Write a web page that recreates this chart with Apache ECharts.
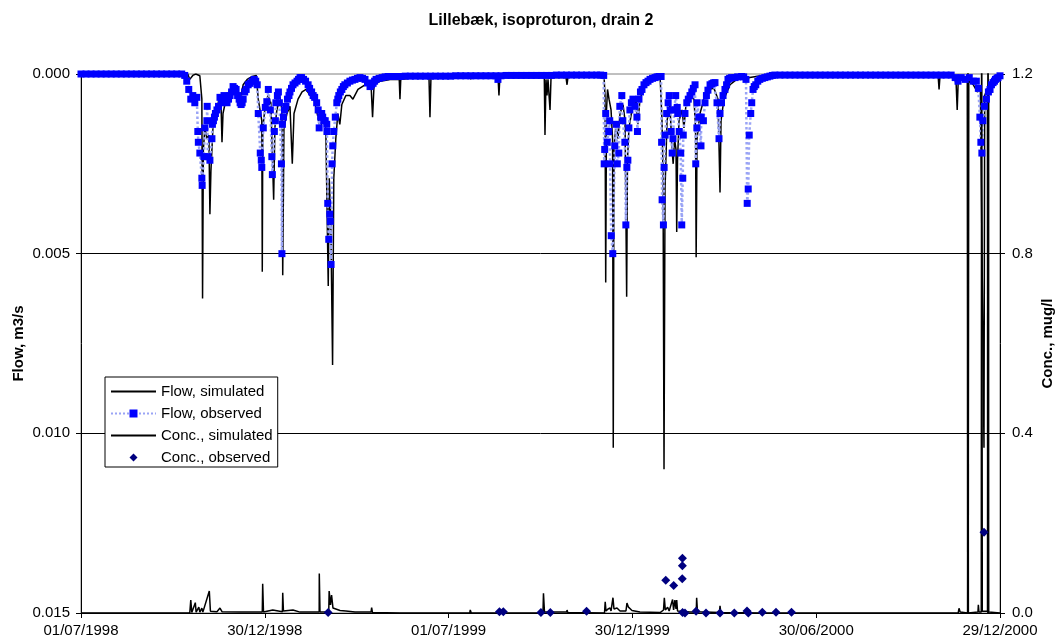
<!DOCTYPE html>
<html>
<head>
<meta charset="utf-8">
<script src="https://cdn.jsdelivr.net/npm/echarts@6/dist/echarts.min.js"></script>
<style>
  html, body { margin: 0; padding: 0; background: #fff; }
  #chart { width: 1055px; height: 644px; }
</style>
</head>
<body>
<div id="chart"></div>
<script>
// Time is counted in days since 1 July 1998.
const START_UTC = Date.UTC(1998, 6, 1);
const DAY_MS = 86400000;
const xTickStep = 182.5;
const xMax = 912.5;

const flowTicks = [0, 0.005, 0.010, 0.015];
const concTicks = [0, 0.4, 0.8, 1.2];

const seriesNames = ['Flow, simulated', 'Flow, observed', 'Conc., simulated', 'Conc., observed'];

// [day, flow m3/s] simulated drain flow
const flowSim = [
  [0,0],[106,0],[108,0.00015],[111,0.00004],[114,0],[118,0.00005],[120,0.0007],[120.7,0.00625],[121.5,0.0021],[123,0.0015],[125,0.0018],[127,0.0017],[128,0.0039],[129,0.0027],[131,0.0015],[134,0.0011],[137,0.0007],[139,0.0008],[140,0.0019],[141,0.0011],[144,0.0007],[147,0.0005],[150,0.00043],[154,0.0005],[158,0.0007],[161,0.0003],[165,0.00015],[170,0.00007],[174,0.00004],
  [176,0.0007],[179.5,0.0013],[180,0.0055],[180.5,0.0015],[182.5,0.001],[185.5,0.0006],[188.5,0.0008],[191.3,0.0035],[192.5,0.0015],[194.5,0.001],[197.5,0.00065],[199.5,0.001],[200.3,0.0056],[201.5,0.0015],[204.5,0.0011],[207.5,0.0009],[209.8,0.0025],[211.5,0.0011],[215.5,0.0007],[219.5,0.0005],[223.5,0.00043],[227.5,0.0006],[231.5,0.0007],[234.5,0.0011],[237.5,0.0015],[240.5,0.0012],[243,0.0014],
  [245.5,0.0059],[246.5,0.0029],[248,0.004],[249.8,0.0081],[251,0.0029],[253,0.0018],[255,0.0011],[257,0.0014],[259,0.00085],[263,0.0006],[267,0.0006],[270,0.0007],[275,0.00043],[282,0.0003],[288,0.0003],[289.5,0.0012],[291,0.0003],[297,0.0002],[307,0.00015],[316,0.00015],[316.7,0.0007],[317.5,0.00015],[331.5,0.0001],[345.5,0.00007],[346.5,0.0012],[347.5,0.00007],[366,0.00004],[386,0.00004],[387,0.00015],[388,0.00004],[414,0.00004],[415,0.0006],[416,0.00004],[446,0.00002],[460,0.00004],[460.7,0.0017],[461.7,0.00015],[462.7,0.0006],[463.7,0.00015],[465.7,0.001],[466.7,0.0001],[481.6,0.0001],[482.6,0.0003],[483.6,0.00007],[515,0.00004],
  [519.3,0.00004],[520.3,0.0006],[521,0.0058],[521.8,0.001],[522.8,0.00043],[524.3,0.0007],[526.3,0.001],[527.8,0.0018],[528.5,0.0104],[529.2,0.0021],[531.2,0.0014],[533.2,0.0018],[535.2,0.0011],[538.2,0.00085],[540.2,0.0013],[541.8,0.0062],[542.6,0.0024],[544.1,0.0015],[547.1,0.001],[551,0.0007],[553,0.0014],[555,0.0007],[560,0.0003],[567,0.0001],[575,0.00007],
  [576.9,0.0013],[577.9,0.0027],[578.9,0.011],[579.9,0.0032],[581.9,0.0013],[584.8,0.00085],[586.8,0.0021],[588,0.0025],[589.3,0.0018],[590.8,0.0021],[591.5,0.0044],[592.3,0.0024],[593.8,0.0013],[596.8,0.001],[598.7,0.0015],[600.7,0.00085],[604.7,0.00065],[608.7,0.0007],[610.2,0.0015],[610.8,0.0051],[611.7,0.0018],[614.6,0.0011],[618.6,0.0007],[622.6,0.00043],[628.5,0.0004],[632.5,0.0007],[634.5,0.0033],[635.5,0.0013],[638.4,0.0007],[644.4,0.0003],[652.4,0.00012],[658.3,0.00015],[664,0.0001],[675,0.00005],[700,0.00002],
  [851,0.00002],[852,0.00043],[853,0.00002],[867,0.00005],[869,0.0003],[870,0.001],[871,0.0002],[875,0.0001],[880,0.0002],[880.7,0.02],[881.5,0.0002],[886,0.0003],[890,0.0005],[893,0.0004],[896.6,0.0104],[897.3,0.0006],[900,0.0004],[900.6,0.02],[901.3,0.0003],[905,0.0002],[912.5,0.0001]
];

// [day, flow m3/s] measured drain flow
const flowObs = [
  [0,0],[5,0],[10,0],[15,0],[20,0],[25,0],[30,0],[35,0],[40,0],[45,0],[50,0],[55,0],[60,0],[65,0],[70,0],[75,0],[80,0],[85,0],[90,0],[95,0],[100,0],
  [103,0.00004],[105,0.0002],[107,0.00043],[109,0.0007],[111,0.0006],[113,0.0008],[115,0.00065],[116,0.0016],[116.5,0.0019],[118,0.0022],[120,0.0029],[120.3,0.0031],[122,0.0023],[123,0.0015],[125,0.0013],[125.3,0.0009],[126,0.0023],[128,0.0024],[130,0.0018],[130.5,0.0014],
  [131.5,0.0013],[132.5,0.0012],[133.5,0.0011],[135,0.001],[136.5,0.0009],[138,0.00065],[139.5,0.0008],[141,0.0007],[142,0.0006],[143.5,0.0007],[145,0.0008],[146.5,0.0007],[148,0.0006],[149.5,0.0005],[151,0.00035],[152.5,0.0004],[154,0.00043],[155.5,0.0006],[157,0.0007],[158,0.0008],[159,0.00085],[160,0.0008],[161,0.0007],[162.5,0.0005],[164,0.00043],[166,0.0003],[168,0.00026],[170,0.0002],[172,0.00015],[173.5,0.0002],[175,0.0003],
  [176,0.0011],[178,0.0022],[179,0.0024],[179.5,0.0026],[181,0.0015],[183,0.00093],[184.5,0.00077],[186,0.00043],[188,0.001],[189.5,0.0023],[190,0.0028],[192,0.0016],[193,0.0013],[193.5,0.0008],[195,0.0006],[196,0.0005],[197,0.0008],[199,0.0025],[199.5,0.005],[200,0.0014],
  [201,0.0012],[202,0.001],[203.5,0.0009],[205,0.0007],[206.5,0.0006],[207.5,0.0005],[209,0.0004],[210.5,0.0003],[212.5,0.00025],[214.5,0.0002],[216,0.00015],[217.5,0.0001],[219,0.0001],[221,0.00015],[223,0.0002],[225.5,0.0003],[227,0.0004],[229,0.0005],[230.5,0.0006],[232,0.00065],[234,0.0008],[235.5,0.001],[236.5,0.0015],[238,0.0012],[239,0.0011],[240,0.0012],[241,0.0013],[242.5,0.0013],[244,0.0014],[244.2,0.0016],
  [245,0.0036],[246,0.0046],[247,0.0039],[247.5,0.0041],[248.3,0.0053],[249.3,0.0025],[250,0.002],[251,0.0016],[252.5,0.0012],[254,0.0008],[255,0.0007],[256,0.0006],[257.5,0.0005],[259,0.00043],[260.5,0.00035],[262,0.0003],[264.5,0.00025],[267,0.0002],[269.5,0.00017],[272,0.00015],[274.5,0.00012],[277,0.0001],[279.5,0.00012],[282,0.00015],[284.5,0.00025],[287,0.00035],[288.5,0.0003],[290,0.00026],[291.5,0.0002],[293,0.00015],[296,0.00012],[299,0.0001],[302,0.00008],[305,0.00007],[308,0.00007],[311,0.00007],[314,0.00007],[317,0.00007],
  [322,0.00006],[327,0.00006],[332,0.00006],[337,0.00006],[342,0.00006],[347,0.00006],[352,0.00006],[357,0.00006],[362,0.00006],[367,0.00006],[372,0.00005],[377,0.00005],[382,0.00005],[387,0.00005],[392,0.00005],[397,0.00005],[402,0.00005],[407,0.00005],[412,0.00005],[414,0.00015],[417,0.00005],
  [422,0.00004],[427,0.00004],[432,0.00004],[437,0.00004],[442,0.00004],[447,0.00004],[452,0.00004],[457,0.00004],[462,0.00004],[467,0.00004],[472,0.00003],[477,0.00003],[482,0.00003],[487,0.00003],[492,0.00003],[497,0.00003],[502,0.00003],[507,0.00003],[512,0.00003],[516,0.00003],
  [519,0.00004],[519.5,0.0025],[520,0.0021],[521,0.0011],[522.5,0.0019],[524,0.0016],[525,0.0013],[525.3,0.0025],[526.5,0.0045],[528,0.005],[530,0.002],[531.5,0.0014],[532.5,0.0025],[534,0.0022],[535,0.0009],[537,0.0006],[538,0.0013],[540,0.0019],[541,0.0042],[542,0.0026],[543,0.0024],[544,0.0015],[545,0.001],[546.5,0.0008],[548,0.0007],[550,0.0009],[552,0.0012],[552.5,0.0016],[554,0.0007],[555.5,0.0005],[557,0.00043],[559,0.0003],[561,0.00024],[563,0.0002],[565,0.00015],[567.5,0.00012],[570,0.0001],[572,0.00008],[574,0.00007],[576,0.00007],
  [576.5,0.0019],[577,0.0035],[578.3,0.0042],[579,0.0026],[580,0.0017],[581.5,0.0011],[583,0.0008],[584,0.0006],[585,0.001],[586,0.0016],[587,0.0022],[587.8,0.0018],[589,0.001],[590.5,0.0006],[592,0.00093],[592.5,0.0011],[594,0.0016],[595.5,0.0022],[596.5,0.0042],[597.5,0.0029],[598,0.0017],[599.7,0.0011],[601.5,0.0008],[603,0.0007],[604.7,0.0006],[606.5,0.0005],[608,0.0004],[609.7,0.0003],[610.4,0.0025],[611.5,0.0015],[611.8,0.0008],[613.5,0.0012],[615.6,0.002],[615.8,0.0012],[618,0.0013],[619.6,0.0008],[621,0.0006],[622.5,0.00045],[624.6,0.0003],[626.5,0.00027],[628,0.00025],[629.5,0.00024],[631.5,0.0008],[633.5,0.0018],[634.5,0.0011],[636,0.0008],[637.5,0.0006],[639.4,0.00043],[641,0.0003],[642.4,0.00015],[644,0.00012],[646,0.0001],[649.4,0.0001],[652,0.00008],[656,0.00007],[658,0.00008],
  [660.3,0.00015],[661.5,0.0036],[662.5,0.0032],[663.5,0.0017],[665,0.0011],[666,0.0008],[667.3,0.00043],[668.5,0.00035],[670,0.0003],[672,0.0002],[674,0.00015],[676.5,0.00012],[679,0.0001],[681.5,0.00008],[684,0.00006],[686.5,0.00004],
  [689,0.00003],[694,0.00003],[699,0.00003],[704,0.00003],[709,0.00003],[714,0.00003],[719,0.00003],[724,0.00003],[729,0.00003],[734,0.00003],[739,0.00003],[744,0.00003],[749,0.00003],[754,0.00003],[759,0.00003],[764,0.00003],[769,0.00003],[774,0.00003],[779,0.00003],[784,0.00003],[789,0.00003],[794,0.00003],[799,0.00003],[804,0.00003],[809,0.00003],[814,0.00003],[819,0.00003],[824,0.00003],[829,0.00003],[834,0.00003],[839,0.00003],[844,0.00003],[849,0.00003],[854,0.00003],[859,0.00003],[864,0.00003],
  [868,0.0001],[870.8,0.0002],[874,0.0001],[878,0.00015],[882,0.0001],[886,0.0002],[889,0.0002],[891,0.0004],[892.5,0.0012],[893.5,0.0019],[894.5,0.0022],[895.5,0.0013],[897,0.0009],[899,0.0007],[901,0.0005],[902.6,0.00043],[904,0.0003],[905.6,0.00024],[907,0.0002],[908,0.00015],[909.5,0.00012],[910.5,0.0001],[912.5,0.00005]
];

// [day, conc. mug/l] simulated isoproturon concentration
const concSim = [
  [0,0],[108,0],[109,0.029],[110,0.001],[113.5,0.023],[114.3,0.002],[117,0.013],[118,0.002],[120,0.011],[121,0.002],[127.4,0.049],[128.5,0.004],[135,0.003],[138,0.011],[140,0.003],[158,0.002],[180,0.002],[180.4,0.065],[181.2,0.002],[190.4,0.0067],[192,0.003],[200,0.003],[200.3,0.045],[201,0.0045],[210.5,0.0067],[212,0.003],[217.5,0.002],[236.5,0.002],[236.6,0.088],[237.3,0.002],[246,0.003],[246.4,0.049],[247.7,0.018],[248.8,0.04],[250.2,0.011],[257.2,0.0056],[263,0.0045],[272,0.002],[288,0.002],[288.6,0.012],[289.4,0.001],[316.7,0],[386,0],[386.5,0.0067],[387.5,0],[458.7,0],[459.2,0.044],[460.2,0.002],[482.3,0.002],[482.6,0.0067],[483.3,0.001],
  [519.8,0],[520.5,0.025],[521.3,0.0045],[523.3,0.009],[525.3,0.011],[526.3,0.0045],[528.2,0.034],[529.2,0.009],[532.2,0.011],[535.2,0.0045],[541.1,0.0045],[542.1,0.022],[543.6,0.013],[545.1,0.014],[547.1,0.0056],[555,0.002],[575,0.001],[578.4,0.0067],[579.2,0.034],[580.2,0.0067],[582.5,0.013],[584,0.0045],[587.4,0.03],[588.4,0.0067],[589.7,0.029],[590.8,0.009],[591.5,0.029],[592.3,0.0045],[604.7,0.002],[610.9,0.002],[611.3,0.034],[612.1,0.003],[633.9,0.001],[634.5,0.016],[635.3,0.001],[674,0],
  [871,0],[871.8,0.0105],[873,0.002],[880.3,0],[880.7,1.6],[881.1,0],[890.6,0.002],[891,0.018],[891.6,0.002],[893.9,0.002],[894.3,1.6],[894.9,0.004],[900.1,0.004],[900.6,1.6],[901.3,0.002],[912.5,0]
];

// [day, conc. mug/l] measured isoproturon concentration
const concObs = [
  [245.4,0.001],[415.5,0.003],[419.3,0.003],[456.7,0.001],[466,0.001],[502,0.004],[580.6,0.073],[588.5,0.061],[597,0.076],[597.1,0.105],[597.2,0.122],[597.3,0.001],[599.7,0],[610.7,0.004],[620.6,0],[634.5,0],[648.7,0],[661.3,0.0045],[662.6,0],[676.5,0.0016],[690.1,0.0016],[705.5,0.0016],[896.6,0.18]
];

function dayLabel(v) {
  const d = new Date(START_UTC + Math.floor(v + 1e-6) * DAY_MS);
  const dd = String(d.getUTCDate()).padStart(2, '0');
  const mm = String(d.getUTCMonth() + 1).padStart(2, '0');
  return dd + '/' + mm + '/' + d.getUTCFullYear();
}

const FONT = 'Liberation Sans, Arial, sans-serif';
const chart = echarts.init(document.getElementById('chart'), null, { renderer: 'canvas' });

chart.setOption({
  animation: false,
  backgroundColor: '#fff',
  textStyle: { fontFamily: FONT, color: '#000' },
  title: {
    text: 'Lillebæk, isoproturon, drain 2',
    left: 536, top: 8, textAlign: 'center',
    textStyle: { fontFamily: FONT, fontSize: 16, fontWeight: 'bold', color: '#000' }
  },
  grid: {
    left: 81, right: 55, top: 74, bottom: 31,
    outerBoundsMode: 'none', containLabel: false,
    show: true, borderColor: '#808080', borderWidth: 1, backgroundColor: 'transparent'
  },
  legend: {
    orient: 'vertical',
    left: 105, top: 377,
    data: [
      { name: seriesNames[0], itemStyle: { opacity: 0 } },
      { name: seriesNames[1] },
      { name: seriesNames[2], itemStyle: { opacity: 0 } },
      { name: seriesNames[3], itemStyle: { opacity: 1 }, lineStyle: { opacity: 0 } }
    ],
    backgroundColor: '#fff',
    borderColor: '#000', borderWidth: 1,
    padding: [7, 5, 2, 5],
    itemGap: 7, itemWidth: 45, itemHeight: 10,
    textStyle: { fontFamily: FONT, fontSize: 15, color: '#000' }
  },
  xAxis: {
    type: 'value', min: 0, max: xMax, interval: xTickStep,
    axisLine: { onZero: false, lineStyle: { color: '#000', width: 1 } },
    axisTick: { show: true, length: 5, lineStyle: { color: '#000' } },
    axisLabel: { formatter: dayLabel, fontFamily: FONT, fontSize: 15, color: '#000', margin: 10 },
    splitLine: { show: false }
  },
  yAxis: [
    {
      type: 'value', inverse: true, position: 'left',
      min: flowTicks[0], max: flowTicks[flowTicks.length - 1], interval: 0.005,
      name: 'Flow, m3/s', nameLocation: 'middle', nameRotate: 90, nameGap: 55,
      nameMoveOverlap: false,
      nameTextStyle: { fontFamily: FONT, fontSize: 15, fontWeight: 'bold', color: '#000' },
      axisLine: { show: true, lineStyle: { color: '#000' } },
      axisTick: { show: true, length: 5, lineStyle: { color: '#000' } },
      axisLabel: { formatter: v => v.toFixed(3), fontFamily: FONT, fontSize: 15, color: '#000', margin: 11 },
      splitLine: { show: true, showMinLine: false, showMaxLine: false, lineStyle: { color: '#000', width: 1 } }
    },
    {
      type: 'value', position: 'right',
      min: concTicks[0], max: concTicks[concTicks.length - 1], interval: 0.4,
      name: 'Conc., mug/l', nameLocation: 'middle', nameRotate: 90, nameGap: 40,
      nameMoveOverlap: false,
      nameTextStyle: { fontFamily: FONT, fontSize: 15, fontWeight: 'bold', color: '#000' },
      axisLine: { show: true, lineStyle: { color: '#000' } },
      axisTick: { show: true, length: 5, lineStyle: { color: '#000' } },
      axisLabel: { formatter: v => v.toFixed(1), fontFamily: FONT, fontSize: 15, color: '#000', margin: 12 },
      splitLine: { show: false }
    }
  ],
  series: [
    {
      name: seriesNames[0], type: 'line', yAxisIndex: 0, data: flowSim,
      symbol: 'none', clip: true,
      lineStyle: { color: '#000', width: 1.5 }, itemStyle: { color: '#000' }
    },
    {
      name: seriesNames[1], type: 'line', yAxisIndex: 0, data: flowObs,
      symbol: 'rect', symbolSize: 7, showAllSymbol: true, clip: true,
      lineStyle: { color: '#9AA4F5', width: 2.5, type: 'dotted' },
      itemStyle: { color: '#0000FF', borderWidth: 0 }
    },
    {
      name: seriesNames[2], type: 'line', yAxisIndex: 1, data: concSim,
      symbol: 'none', clip: true,
      lineStyle: { color: '#000', width: 1.5 }, itemStyle: { color: '#000' }
    },
    {
      // markers only: the connecting line is hidden
      name: seriesNames[3], type: 'line', yAxisIndex: 1, data: concObs,
      symbol: 'diamond', symbolSize: 9, showAllSymbol: true, clip: false,
      lineStyle: { width: 0, opacity: 0 },
      itemStyle: { color: '#000080', opacity: 1 }
    }
  ]
});
</script>
</body>
</html>
